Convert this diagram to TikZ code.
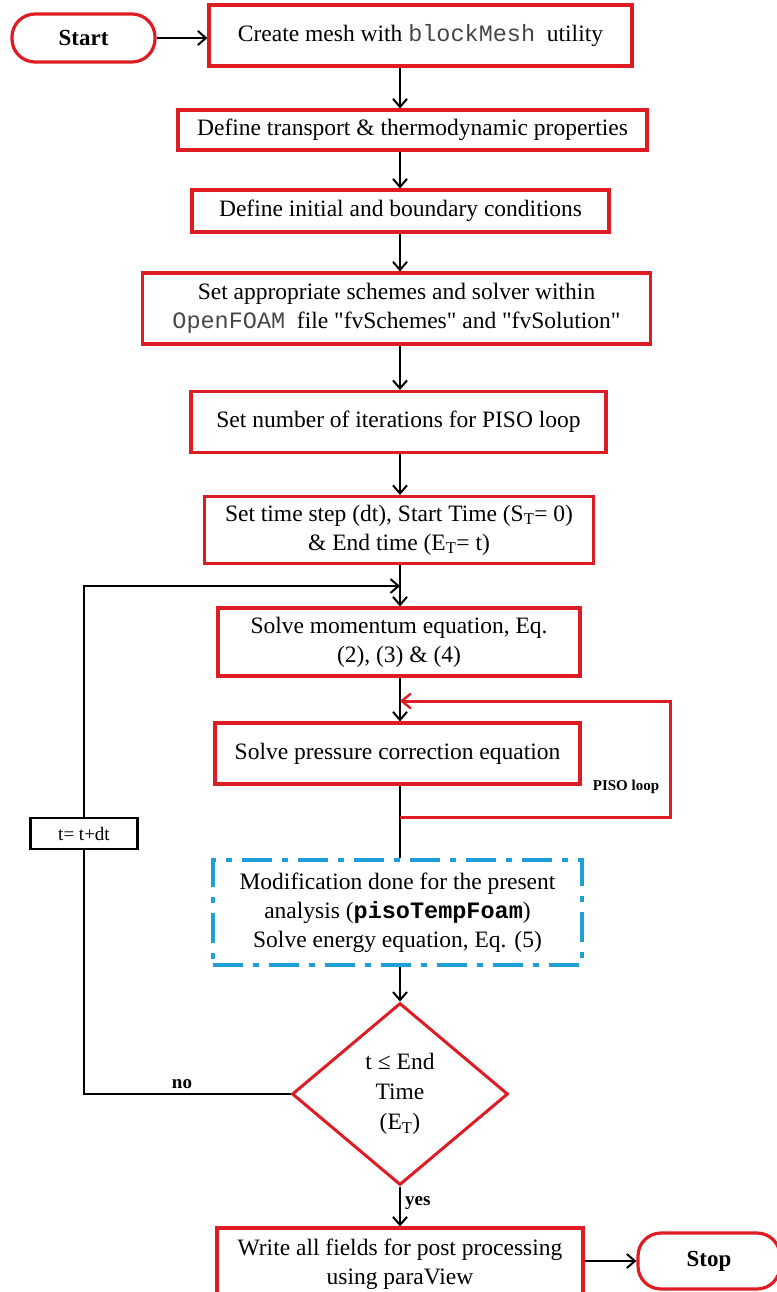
\documentclass[tikz,border=0pt]{standalone}
\usepackage{fontspec}
\setmainfont{Liberation Serif}
\setmonofont{Liberation Mono}
\usetikzlibrary{arrows.meta,shapes.geometric}
\definecolor{boxred}{RGB}{222,28,36}
\definecolor{loopblue}{RGB}{30,160,215}
\definecolor{codegray}{RGB}{70,70,70}
\newcommand{\code}[1]{{\color{codegray}\ttfamily #1}}
\newcommand{\subT}{\textsubscript{T}}
\newcommand{\qq}[1]{\textquotedbl#1\textquotedbl}

\begin{document}
\begin{tikzpicture}[x=1pt,y=-1pt,
  every node/.style={font=\fontsize{23.5}{29}\selectfont, align=center, inner sep=0pt},
  procbox/.style={draw=boxred, line width=3.2pt, rectangle},
  terminal/.style={draw=boxred, line width=3.2pt, rounded corners=23pt,
    font=\fontsize{23}{29}\selectfont\bfseries},
  flow/.style={draw=black, line width=2.2pt,
    -{Straight Barb[length=8pt,width=14pt,line width=2pt]}},
  plain/.style={draw=black, line width=2.2pt},
  pisoflow/.style={draw=boxred, line width=3pt,
    -{Straight Barb[length=9pt,width=15pt,line width=2.4pt]}},
  tag/.style={font=\fontsize{19}{21}\selectfont\bfseries},
]
\useasboundingbox (0,0) rectangle (776,1292);

% main vertical axis of the chart
\coordinate (axis) at (400,0);

% terminals and process boxes
\node[terminal, minimum width=143, minimum height=48] (start) at (83.5,38) {Start};
\node[procbox, minimum width=423, minimum height=61] (create) at (420.5,35.5)
  {Create mesh with \code{blockMesh}\ \ utility};
\node[procbox, minimum width=469, minimum height=40] (transport) at (412.5,130)
  {Define transport \& thermodynamic properties};
\node[procbox, minimum width=417, minimum height=42] (initial) at (400.5,211)
  {Define initial and boundary conditions};
\node[procbox, minimum width=508, minimum height=71] (schemes) at (396.5,308.5)
  {Set appropriate schemes and solver within\\
   \code{OpenFOAM}\ \ file \qq{fvSchemes} and \qq{fvSolution}};
\node[procbox, minimum width=415, minimum height=61] (piso) at (398.5,422)
  {Set number of iterations for PISO loop};
\node[procbox, minimum width=389, minimum height=67] (settime) at (399,530)
  {Set time step (dt), Start Time (S\subT= 0)\\ \& End time (E\subT= t)};
\node[procbox, minimum width=362, minimum height=68] (momentum) at (399,642)
  {Solve momentum equation, Eq.\\ (2), (3) \& (4)};
\node[procbox, minimum width=365, minimum height=61] (pressure) at (397.5,753.5)
  {Solve pressure correction equation};
\node[draw=loopblue, line width=3.5pt,
      dash pattern=on 30pt off 10pt on 6pt off 10pt,
      minimum width=369, minimum height=105] (energy) at (397.5,912.5)
  {Modification done for the present\\
   analysis ({\ttfamily\bfseries pisoTempFoam})\\
   Solve energy equation, Eq. (5)};
\node[diamond, draw=boxred, line width=3pt, minimum width=216, minimum height=182,
      font=\fontsize{23.5}{30}\selectfont] (check) at (400,1094)
  {t ≤ End\\ Time\\ (E\subT)};
\node[procbox, minimum width=366, minimum height=72] (write) at (400,1264)
  {Write all fields for post processing\\ using paraView};
\node[terminal, minimum width=142, minimum height=56] (stop) at (709,1261) {Stop};

% time-step counter box on the outer loop
\node[draw=black, line width=2.5pt, minimum width=107, minimum height=31,
      font=\fontsize{19}{21}\selectfont] (tstep) at (84,833.5) {t= t+dt};

% loop entry and PISO loop corner points
\coordinate (loopin) at (400,586);
\coordinate (pisoin) at (400,701);
\coordinate (pisoout) at (400,817);
\coordinate (pisoright) at (670,0);

% main flow
\draw[flow] (start.east) -- (start.east -| create.west);
\draw[flow] (create.south -| axis) -- (transport.north -| axis);
\draw[flow] (transport.south -| axis) -- (initial.north -| axis);
\draw[flow] (initial.south -| axis) -- (schemes.north -| axis);
\draw[flow] (schemes.south -| axis) -- (piso.north -| axis);
\draw[flow] (piso.south -| axis) -- (settime.north -| axis);
\draw[flow] (settime.south -| axis) -- (momentum.north -| axis);
\draw[flow] (momentum.south -| axis) -- (pressure.north -| axis);
\draw[plain] (pressure.south -| axis) -- (energy.north -| axis);
\draw[flow] (energy.south -| axis) -- (check.north);
\draw[flow] (check.south) -- (write.north -| check.south)
  node[tag, pos=0.42, anchor=west, xshift=4pt] {yes};
\draw[flow] (write.east |- stop.west) -- (stop.west);

% PISO inner loop
\draw[pisoflow] (pisoout) -- (pisoout -| pisoright) -- (pisoin -| pisoright) -- (pisoin);
\node[font=\fontsize{15}{17}\selectfont\bfseries] (pisolabel) at (626,787) {PISO loop};

% outer time loop
\draw[plain] (check.west) -| (tstep.south);
\draw[flow] (tstep.north) |- (loopin);
\node[tag] (nolabel) at (182,1084) {no};
\end{tikzpicture}
\end{document}
